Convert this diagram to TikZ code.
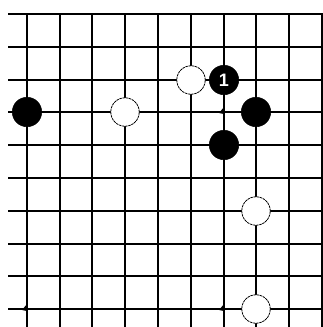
\documentclass[tikz,border=0pt]{standalone}
\usepackage{fontspec}
\setsansfont{Liberation Sans}
\begin{document}
\begin{tikzpicture}[x=1pt,y=-1pt,
  gridline/.style={line width=1.5pt,black},
  bstone/.style={circle,fill=black,draw=black,line width=0.5pt,minimum size=29.5pt,inner sep=0pt,text=white,font=\sffamily\bfseries\fontsize{18}{18}\selectfont},
  wstone/.style={circle,fill=white,draw=black,line width=0.8pt,dash pattern=on 2.5pt off 0.7pt,minimum size=28.5pt,inner sep=0pt},
  hmark/.style={fill=black}]
\useasboundingbox (0,0) rectangle (323,327);
\fill[white] (0,0) rectangle (323,327);
\def\xs{{27,60,92,125,158,191,224,256,289,322}}
\def\ys{{14,47,80,112,145,178,211,244,276,309}}
\foreach \j in {0,...,9} {
  \pgfmathsetmacro\yy{\ys[\j]}
  \draw[gridline] (8,\yy) -- (323,\yy);
}
\foreach \i in {0,...,9} {
  \pgfmathsetmacro\xx{\xs[\i]}
  \draw[gridline] (\xx,14) -- (\xx,327);
}
% small marks
\foreach \i/\j in {6/3,0/9,6/9} {
  \pgfmathsetmacro\xx{\xs[\i]}
  \pgfmathsetmacro\yy{\ys[\j]}
  \fill[hmark] (\xx-5,\yy+1) -- (\xx,\yy-5) -- (\xx,\yy+2) -- cycle;
}
\node[bstone] (b0) at (27,112) {};
\node[wstone] (w3) at (125,112) {};
\node[wstone] (w5) at (191,80) {};
\node[bstone] (b1) at (224,80) {1};
\node[bstone] (b7) at (256,112) {};
\node[bstone] (b6) at (224,145) {};
\node[wstone] (w7a) at (256,211) {};
\node[wstone] (w7b) at (256,309) {};
\end{tikzpicture}
\end{document}
